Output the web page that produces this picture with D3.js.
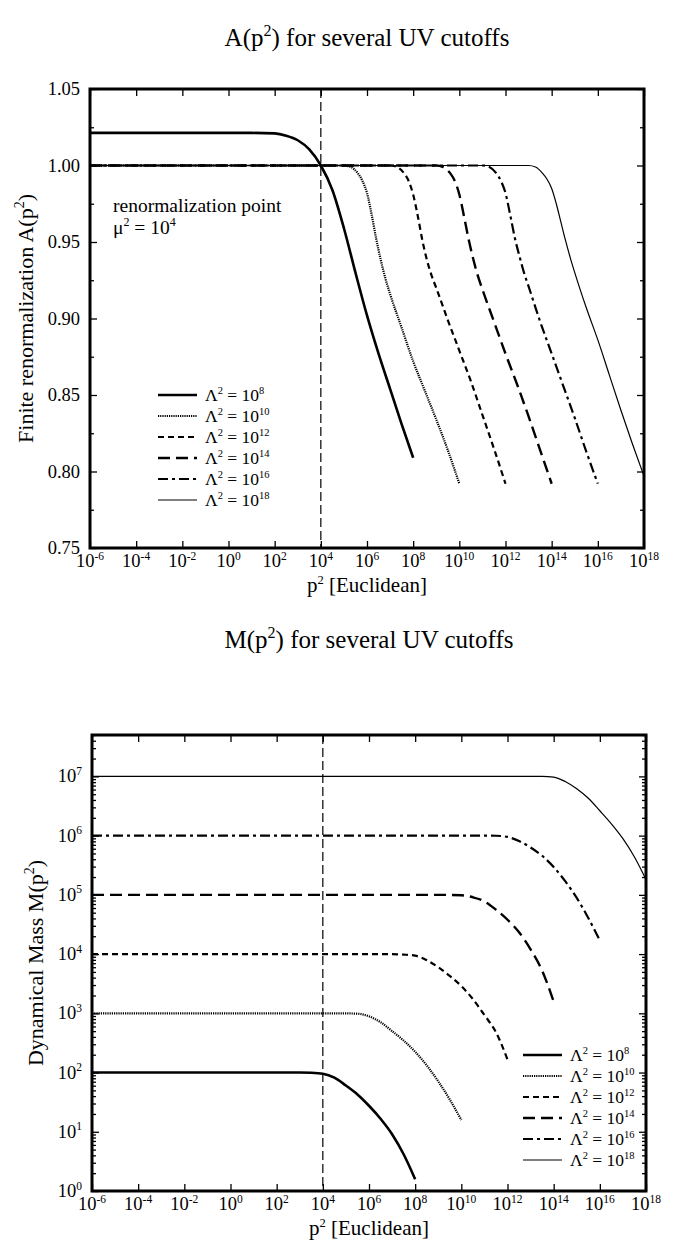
<!DOCTYPE html>
<html>
<head>
<meta charset="utf-8">
<script src="https://cdn.jsdelivr.net/npm/d3@7"></script>
<style>
  body { margin: 0; background: #fff; }
  svg, svg text { font-family: "Liberation Serif", "DejaVu Serif", serif; }
</style>
</head>
<body>
<svg id="chart" width="675" height="1245" font-family="Liberation Serif, DejaVu Serif, serif"></svg>
<script>
// cutoff exponents, Lambda^2 = 10^n
const cutoffs = [8, 10, 12, 14, 16, 18];

// A(p^2): [log10 p^2, A]
const a8 = [[-6, 1.0213], [1, 1.0213], [2, 1.021], [2.5, 1.0195], [3, 1.0165], [3.5, 1.0105], [4, 1.0], [4.5, 0.984], [5, 0.959], [5.5, 0.930], [6, 0.902], [6.5, 0.877], [7, 0.854], [7.5, 0.831], [8, 0.809]];
const a10 = [[-6, 1.0], [5, 1.0], [5.3, 0.999], [5.6, 0.995], [5.8, 0.990], [6, 0.982], [6.2, 0.968], [6.4, 0.952], [6.6, 0.938], [6.8, 0.926], [7, 0.916], [7.5, 0.894], [8, 0.872], [8.5, 0.853], [9, 0.834], [9.5, 0.814], [10, 0.792]];
const a12 = [[-6, 1.0], [7, 1.0], [7.3, 0.999], [7.6, 0.995], [7.8, 0.990], [8, 0.981], [8.2, 0.967], [8.4, 0.951], [8.6, 0.938], [8.8, 0.928], [9, 0.920], [9.5, 0.899], [10, 0.879], [10.5, 0.859], [11, 0.837], [11.5, 0.815], [12, 0.792]];
const a14 = [[-6, 1.0], [9, 1.0], [9.3, 0.999], [9.6, 0.995], [9.8, 0.990], [10, 0.981], [10.2, 0.967], [10.4, 0.952], [10.6, 0.939], [10.8, 0.928], [11, 0.919], [11.5, 0.898], [12, 0.877], [12.5, 0.857], [13, 0.836], [13.5, 0.814], [14, 0.792]];
const a16 = [[-6, 1.0], [11, 1.0], [11.3, 0.999], [11.6, 0.995], [11.8, 0.990], [12, 0.982], [12.2, 0.968], [12.4, 0.953], [12.6, 0.941], [12.8, 0.930], [13, 0.921], [13.5, 0.898], [14, 0.877], [14.5, 0.856], [15, 0.835], [15.5, 0.813], [16, 0.792]];
const a18 = [[-6, 1.0], [13, 1.0], [13.3, 0.999], [13.6, 0.995], [13.8, 0.991], [14, 0.985], [14.2, 0.975], [14.4, 0.963], [14.6, 0.951], [14.8, 0.940], [15, 0.930], [15.5, 0.907], [16, 0.886], [16.5, 0.863], [17, 0.840], [17.5, 0.818], [18, 0.797]];

// M(p^2): [log10 p^2, M]
const m8 = [[-6, 100], [2.5, 100], [3, 99.9], [3.5, 99.0], [4, 95.5], [4.5, 82], [5, 60.3], [5.5, 42.7], [6, 27.5], [6.5, 16.6], [7, 9.1], [7.5, 4.17], [8, 1.58]];
const m10 = [[-6, 1000], [4.5, 1000], [5, 997], [5.5, 985], [6, 891], [6.5, 708], [7, 501], [7.5, 347], [8, 224], [8.5, 132], [9, 71], [9.5, 35], [10, 15.8]];
const m12 = [[-6, 1e4], [6.5, 1e4], [7, 9980], [7.5, 9800], [8, 9400], [8.5, 7900], [9, 6000], [9.5, 4270], [10, 2880], [10.5, 1740], [11, 933], [11.5, 480], [12, 166]];
const m14 = [[-6, 1e5], [9, 1e5], [9.5, 99800], [10, 98500], [10.5, 91000], [11, 77600], [11.5, 56200], [12, 38000], [12.5, 23400], [13, 12000], [13.5, 5250], [14, 1580]];
const m16 = [[-6, 1e6], [11, 1e6], [11.5, 995000], [12, 950000], [12.5, 810000], [13, 631000], [13.5, 457000], [14, 295000], [14.5, 170000], [15, 89100], [15.5, 40700], [16, 17000]];
const m18 = [[-6, 1e7], [13, 1e7], [13.5, 9.99e6], [14, 9.75e6], [14.5, 8.2e6], [15, 6.17e6], [15.5, 4.27e6], [16, 2.63e6], [16.5, 1.585e6], [17, 8.91e5], [17.5, 4.37e5], [18, 1.82e5]];

const xTickExps = [-6, -4, -2, 0, 2, 4, 6, 8, 10, 12, 14, 16, 18];
const aTicks = [0.75, 0.80, 0.85, 0.90, 0.95, 1.00, 1.05];
const aMinor = [0.775, 0.825, 0.875, 0.925, 0.975, 1.025];
const mTickExps = [0, 1, 2, 3, 4, 5, 6, 7];
const renormExp = 4;

// line look for each cutoff
const styles = [
  { w: 2.6, dash: null },
  { w: 2.2, dash: "1.2,1" },
  { w: 2.2, dash: "6,4" },
  { w: 2.4, dash: "12,6" },
  { w: 2.2, dash: "10,4,3,4" },
  { w: 1.2, dash: null }
];

const svg = d3.select("#chart");

function rich(sel, parts, supSize, rise) {
  let up = false;
  parts.forEach(([s, isSup]) => {
    const sp = sel.append("tspan").text(s);
    if (isSup) {
      sp.attr("font-size", supSize);
      if (!up) { sp.attr("dy", -rise); up = true; }
    } else if (up) {
      sp.attr("dy", rise); up = false;
    }
  });
  return sel;
}

function panel(cfg) {
  const g = svg.append("g");
  const { left, right, top, bottom } = cfg;
  const x = d3.scaleLog().domain([1e-6, 1e18]).range([left, right]);
  const y = cfg.y;

  // axes with inward ticks
  const xVals = xTickExps.map(e => Math.pow(10, e));
  g.append("g").attr("transform", `translate(0,${bottom})`)
    .call(d3.axisBottom(x).tickValues(xVals).tickSize(-7).tickFormat(""));
  g.append("g").attr("transform", `translate(0,${top})`)
    .call(d3.axisTop(x).tickValues(xVals).tickSize(-7).tickFormat(""));
  g.append("g").attr("transform", `translate(${left},0)`)
    .call(d3.axisLeft(y).tickValues(cfg.yMajor).tickSize(-7).tickFormat(""));
  g.append("g").attr("transform", `translate(${right},0)`)
    .call(d3.axisRight(y).tickValues(cfg.yMajor).tickSize(-7).tickFormat(""));
  g.append("g").attr("transform", `translate(${left},0)`)
    .call(d3.axisLeft(y).tickValues(cfg.yMinor).tickSize(-4).tickFormat(""));
  g.append("g").attr("transform", `translate(${right},0)`)
    .call(d3.axisRight(y).tickValues(cfg.yMinor).tickSize(-4).tickFormat(""));
  g.selectAll(".domain").remove();
  g.selectAll(".tick line").attr("stroke", "#000").attr("stroke-width", 1.3);

  // x labels
  xTickExps.forEach(e => {
    const t = g.append("text").attr("x", x(Math.pow(10, e))).attr("y", bottom + 19)
      .attr("text-anchor", "middle").attr("font-size", 18.5);
    rich(t, [["10", false], [String(e), true]], 11.5, 7.5);
  });
  // y labels
  cfg.yMajor.forEach((v, i) => {
    const t = g.append("text").attr("x", left - 10).attr("y", y(v) + 6)
      .attr("text-anchor", "end").attr("font-size", 18.5);
    if (cfg.logY) rich(t, [["10", false], [String(mTickExps[i]), true]], 11.5, 7.5);
    else t.text(d3.format(".2f")(v));
  });

  // renormalization point
  g.append("line")
    .attr("x1", x(Math.pow(10, renormExp))).attr("x2", x(Math.pow(10, renormExp)))
    .attr("y1", top).attr("y2", bottom)
    .attr("stroke", "#000").attr("stroke-width", 1.2).attr("stroke-dasharray", "9,4");

  const line = d3.line()
    .x(d => x(Math.pow(10, d[0])))
    .y(d => y(d[1]))
    .curve(d3.curveMonotoneX);
  cfg.series.forEach((s, i) => {
    g.append("path").datum(s)
      .attr("d", line)
      .attr("fill", "none").attr("stroke", "#000")
      .attr("stroke-width", styles[i].w)
      .attr("stroke-dasharray", styles[i].dash);
  });

  // frame
  g.append("rect").attr("x", left).attr("y", top)
    .attr("width", right - left).attr("height", bottom - top)
    .attr("fill", "none").attr("stroke", "#000").attr("stroke-width", 3);

  // titles
  const title = g.append("text").attr("x", (left + right) / 2).attr("y", cfg.titleY)
    .attr("text-anchor", "middle").attr("font-size", 25);
  rich(title, cfg.title, 16, 10);
  const xt = g.append("text").attr("x", (left + right) / 2).attr("y", bottom + 44)
    .attr("text-anchor", "middle").attr("font-size", 21);
  rich(xt, [["p", false], ["2", true], ["  [Euclidean]", false]], 12.5, 8);
  const yt = g.append("text")
    .attr("transform", `translate(${cfg.yTitleX},${(top + bottom) / 2}) rotate(-90)`)
    .attr("text-anchor", "middle").attr("font-size", 22);
  rich(yt, cfg.yTitle, 14, 9);

  // legend
  cutoffs.forEach((c, i) => {
    const ly = cfg.legY + i * 21;
    g.append("line").attr("x1", cfg.legX).attr("x2", cfg.legX + 39)
      .attr("y1", ly).attr("y2", ly)
      .attr("stroke", "#000").attr("stroke-width", styles[i].w)
      .attr("stroke-dasharray", styles[i].dash);
    const t = g.append("text").attr("x", cfg.legX + 47).attr("y", ly + 6).attr("font-size", 17.5);
    rich(t, [["\u039B", false], ["2", true], [" = 10", false], [String(c), true]], 10.5, 7);
  });
  return { g, x, y };
}

const topPanel = panel({
  left: 90, right: 644, top: 89, bottom: 548,
  y: d3.scaleLinear().domain([0.75, 1.05]).range([548, 89]),
  yMajor: aTicks, yMinor: aMinor, logY: false,
  series: [a8, a10, a12, a14, a16, a18],
  title: [["A(p", false], ["2", true], [") for several UV cutoffs", false]],
  titleY: 46,
  yTitle: [["Finite renormalization  A(p", false], ["2", true], [")", false]],
  yTitleX: 33,
  legX: 158, legY: 395
});

topPanel.g.append("text").attr("x", 113).attr("y", 212).attr("font-size", 19.5)
  .text("renormalization point");
rich(topPanel.g.append("text").attr("x", 113).attr("y", 234).attr("font-size", 19.5),
  [["\u03BC", false], ["2", true], [" = 10", false], ["4", true]], 12, 8);

const mMinor = [];
mTickExps.forEach(e => { for (let k = 2; k <= 9; k++) { const v = k * Math.pow(10, e); if (v <= 5e7) mMinor.push(v); } });

panel({
  left: 92, right: 646, top: 735, bottom: 1191,
  y: d3.scaleLog().domain([1, 5e7]).range([1191, 735]),
  yMajor: mTickExps.map(e => Math.pow(10, e)), yMinor: mMinor, logY: true,
  series: [m8, m10, m12, m14, m16, m18],
  title: [["M(p", false], ["2", true], [") for several UV cutoffs", false]],
  titleY: 648,
  yTitle: [["Dynamical Mass M(p", false], ["2", true], [")", false]],
  yTitleX: 43,
  legX: 523, legY: 1055
});
</script>
</body>
</html>
